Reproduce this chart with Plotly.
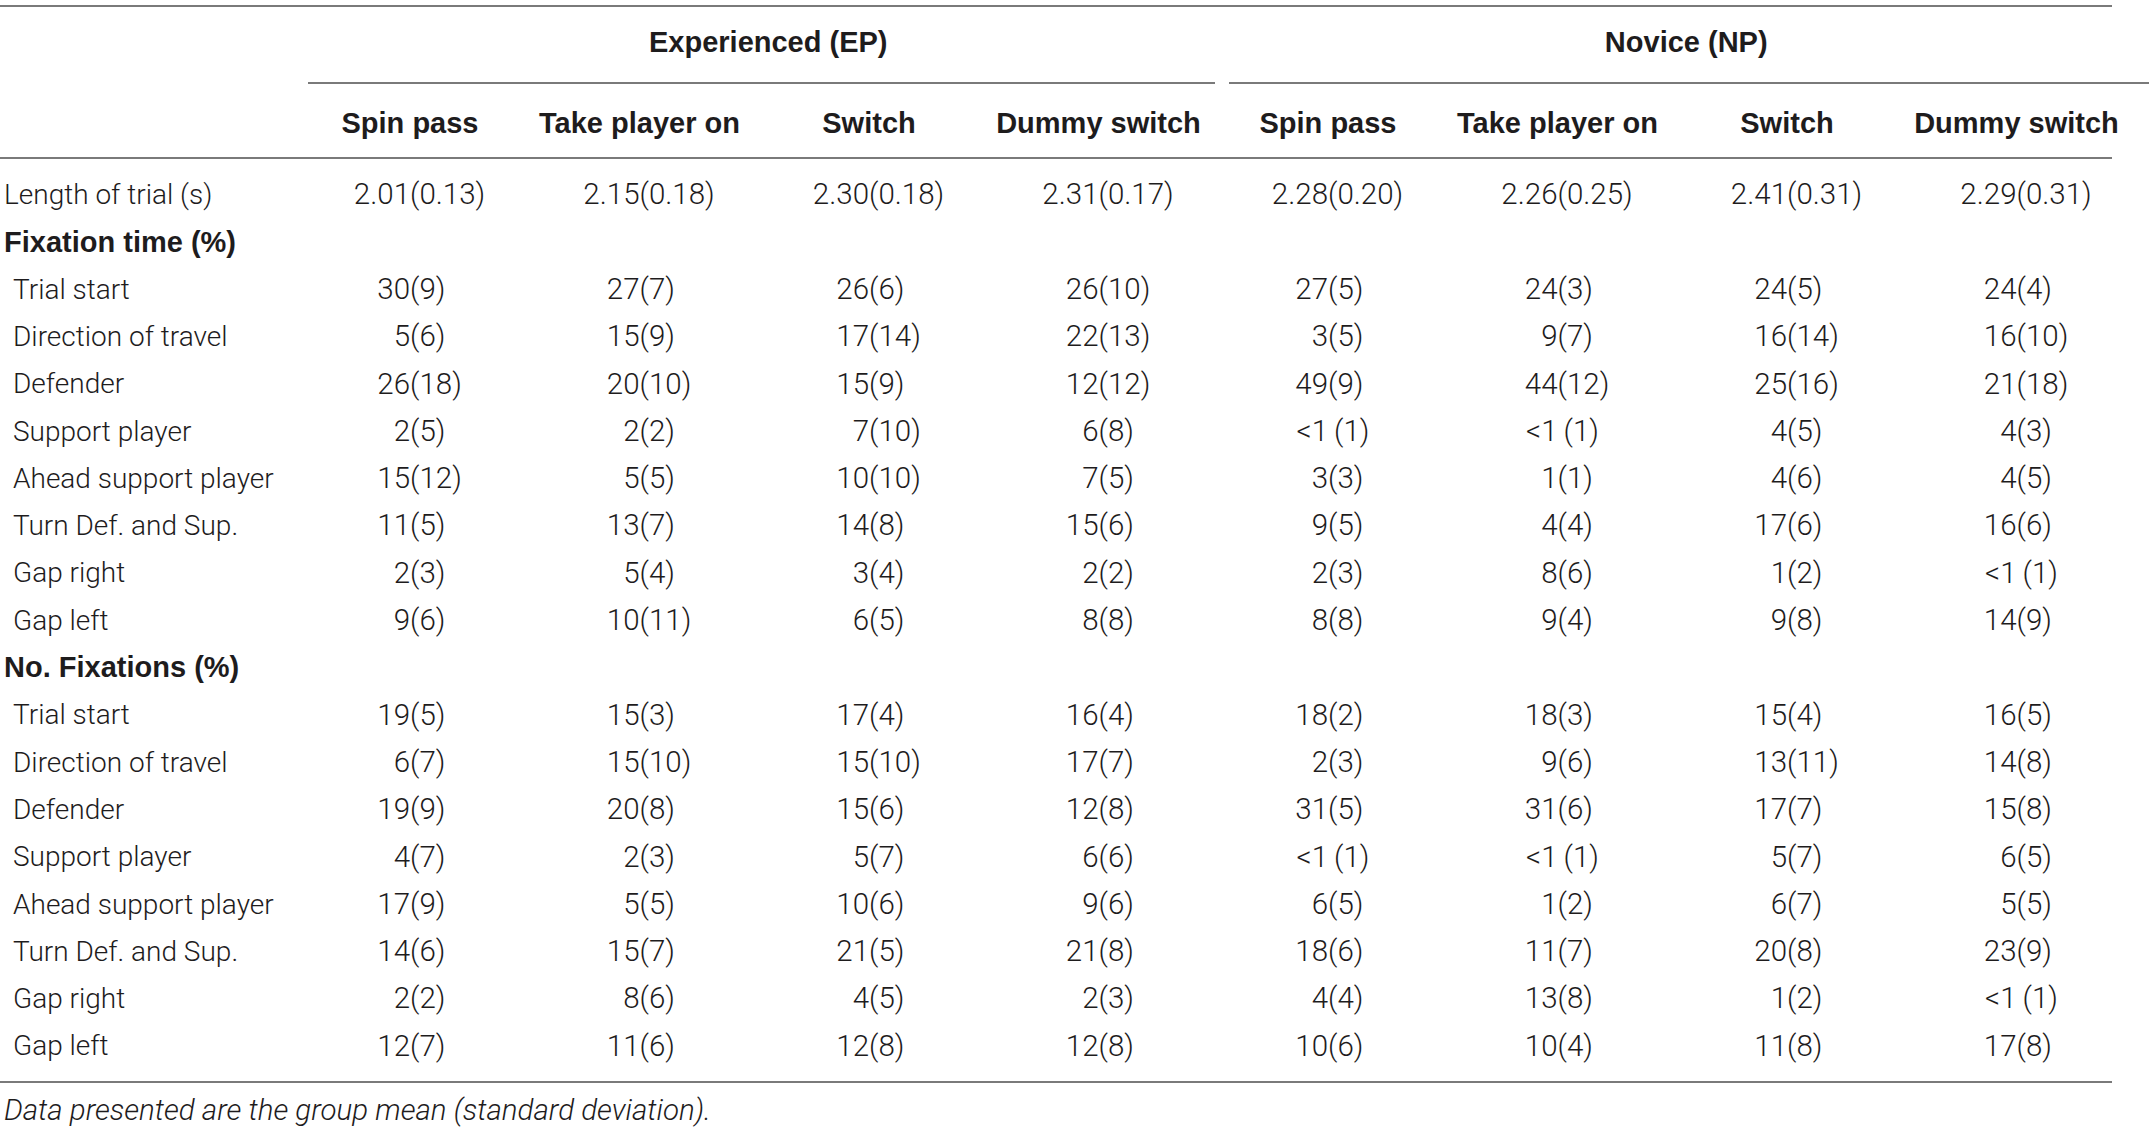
import plotly.graph_objects as go

groups = ["Experienced (EP)", "Novice (NP)"]
actions = ["Spin pass", "Take player on", "Switch", "Dummy switch"]
areas = ["Trial start", "Direction of travel", "Defender", "Support player",
         "Ahead support player", "Turn Def. and Sup.", "Gap right", "Gap left"]

# EP spin, take, switch, dummy | NP spin, take, switch, dummy
trial_length = ["2.01(0.13)", "2.15(0.18)", "2.30(0.18)", "2.31(0.17)",
                "2.28(0.20)", "2.26(0.25)", "2.41(0.31)", "2.29(0.31)"]

fixation_time = [
    ["30(9)", "27(7)", "26(6)", "26(10)", "27(5)", "24(3)", "24(5)", "24(4)"],
    ["5(6)", "15(9)", "17(14)", "22(13)", "3(5)", "9(7)", "16(14)", "16(10)"],
    ["26(18)", "20(10)", "15(9)", "12(12)", "49(9)", "44(12)", "25(16)", "21(18)"],
    ["2(5)", "2(2)", "7(10)", "6(8)", "<1 (1)", "<1 (1)", "4(5)", "4(3)"],
    ["15(12)", "5(5)", "10(10)", "7(5)", "3(3)", "1(1)", "4(6)", "4(5)"],
    ["11(5)", "13(7)", "14(8)", "15(6)", "9(5)", "4(4)", "17(6)", "16(6)"],
    ["2(3)", "5(4)", "3(4)", "2(2)", "2(3)", "8(6)", "1(2)", "<1 (1)"],
    ["9(6)", "10(11)", "6(5)", "8(8)", "8(8)", "9(4)", "9(8)", "14(9)"],
]

n_fixations = [
    ["19(5)", "15(3)", "17(4)", "16(4)", "18(2)", "18(3)", "15(4)", "16(5)"],
    ["6(7)", "15(10)", "15(10)", "17(7)", "2(3)", "9(6)", "13(11)", "14(8)"],
    ["19(9)", "20(8)", "15(6)", "12(8)", "31(5)", "31(6)", "17(7)", "15(8)"],
    ["4(7)", "2(3)", "5(7)", "6(6)", "<1 (1)", "<1 (1)", "5(7)", "6(5)"],
    ["17(9)", "5(5)", "10(6)", "9(6)", "6(5)", "1(2)", "6(7)", "5(5)"],
    ["14(6)", "15(7)", "21(5)", "21(8)", "18(6)", "11(7)", "20(8)", "23(9)"],
    ["2(2)", "8(6)", "4(5)", "2(3)", "4(4)", "13(8)", "1(2)", "<1 (1)"],
    ["12(7)", "11(6)", "12(8)", "12(8)", "10(6)", "10(4)", "11(8)", "17(8)"],
]

note = "Data presented are the group mean (standard deviation)."

# layout (pixel-like units)
W, H = 2155, 1130
ROW0, ROW_H = 197, 47.3
COL0, COL_W = 410, 229.5
TXT = "#1e1c1d"
RULE = "#7a7a7a"
LABEL = dict(family="Roboto", size=28, color=TXT, weight=300)
NUM = dict(family="Roboto", size=29.5, color=TXT, weight=300)
BOLD = dict(family="Liberation Sans", size=29, color=TXT, weight=700)

# assemble rows: (label, cells, bold?, indent?)
rows = [("Length of trial (s)", trial_length, False, False),
        ("Fixation time (%)", None, True, False)]
rows += [(a, v, False, True) for a, v in zip(areas, fixation_time)]
rows += [("No. Fixations (%)", None, True, False)]
rows += [(a, v, False, True) for a, v in zip(areas, n_fixations)]

row_y = [ROW0 + i * ROW_H for i in range(len(rows))]
col_x = [COL0 + j * COL_W for j in range(len(groups) * len(actions))]

fig = go.Figure()

# row labels
for bold in (False, True):
    sel = [(r, y) for r, y in zip(rows, row_y) if r[2] == bold]
    fig.add_trace(go.Scatter(
        x=[13 if r[3] else 4 for r, _ in sel], y=[y for _, y in sel],
        text=[r[0] for r, _ in sel], mode="text", textposition="middle right",
        textfont=BOLD if bold else LABEL, hoverinfo="skip"))

# cells, aligned on the opening parenthesis
for j, cx in enumerate(col_x):
    means, sds, ys = [], [], []
    for r, y in zip(rows, row_y):
        if r[1] is None:
            continue
        m, s = r[1][j].split("(", 1)
        if m.endswith(" "):
            m, s = m.strip(), "\u2009(" + s
        else:
            s = "(" + s
        means.append(m)
        sds.append(s)
        ys.append(y)
    fig.add_trace(go.Scatter(x=[cx] * len(ys), y=ys, text=means, mode="text",
                             textposition="middle left", textfont=NUM,
                             hoverinfo="skip"))
    fig.add_trace(go.Scatter(x=[cx] * len(ys), y=ys, text=sds, mode="text",
                             textposition="middle right", textfont=NUM,
                             hoverinfo="skip"))

# column headers
fig.add_trace(go.Scatter(x=col_x, y=[126] * len(col_x), text=actions * len(groups),
                         mode="text", textposition="middle center",
                         textfont=BOLD, hoverinfo="skip"))

# group headers
n = len(actions)
gx = [sum(col_x[g * n:(g + 1) * n]) / n + 14 for g in range(len(groups))]
fig.add_trace(go.Scatter(x=gx, y=[45] * len(groups), text=groups, mode="text",
                         textposition="middle center", textfont=BOLD,
                         hoverinfo="skip"))

# footnote
fig.add_trace(go.Scatter(x=[4], y=[1113], text=[note], mode="text",
                         textposition="middle right",
                         textfont=dict(LABEL, size=29.5, style="italic"),
                         hoverinfo="skip"))

# horizontal rules
def rule(x0, x1, y):
    fig.add_shape(type="line", x0=x0, x1=x1, y0=y, y1=y,
                  line=dict(color=RULE, width=2), layer="below")

rule(0, 2112, 6)
rule(308, 1215, 83)
rule(1229, 2149, 83)
rule(0, 2112, 158)
rule(0, 2112, 1082)

fig.update_layout(
    width=W, height=H, margin=dict(l=0, r=0, t=0, b=0),
    paper_bgcolor="white", plot_bgcolor="white", showlegend=False,
    xaxis=dict(range=[0, W], visible=False, fixedrange=True),
    yaxis=dict(range=[H, 0], visible=False, fixedrange=True),
)

fig.write_html("out.html", config={"displayModeBar": False},
               post_script="document.body.style.margin='0';")
